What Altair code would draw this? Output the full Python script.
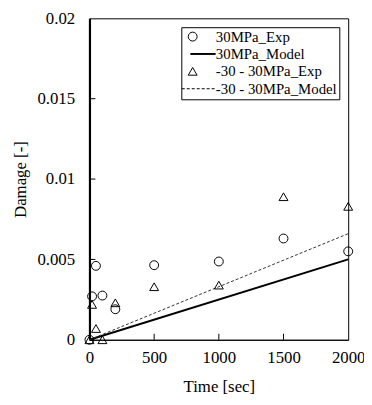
import altair as alt
import pandas as pd

# ---- data ----
time_exp = [0, 20, 50, 100, 200, 500, 1000, 1500, 2000]
damage_30_exp = [0.0, 0.0027, 0.0046, 0.00275, 0.0019, 0.00464, 0.00487, 0.0063, 0.0055]
damage_cyc_exp = [0.0, 0.0022, 0.0007, 0.0, 0.0023, 0.0033, 0.0034, 0.0089, 0.0083]

time_model = [0, 2000]
damage_30_model = [0.0, 0.005]
damage_cyc_model = [0.0, 0.0066]

series_names = ["30MPa_Exp", "30MPa_Model", "-30 - 30MPa_Exp", "-30 - 30MPa_Model"]
x_ticks = [0, 500, 1000, 1500, 2000]
y_ticks = [0, 0.005, 0.01, 0.015, 0.02]
x_inner_ticks = [500, 1000, 1500]
y_inner_ticks = [0.005, 0.01, 0.015]

# ---- tables ----
exp_df = pd.concat([
    pd.DataFrame({"time": time_exp, "damage": damage_30_exp, "series": series_names[0]}),
    pd.DataFrame({"time": time_exp, "damage": damage_cyc_exp, "series": series_names[2]}),
])
model30_df = pd.DataFrame({"time": time_model, "damage": damage_30_model})
modelcyc_df = pd.DataFrame({"time": time_model, "damage": damage_cyc_model})
xtick_df = pd.DataFrame({"time": x_inner_ticks})
ytick_df = pd.DataFrame({"damage": y_inner_ticks})

# legend symbol shapes (unit = sqrt(size)/2 px)
solid_path = "M-0.45,-0.11H5.1V0.11H-0.45Z"
dash_parts = []
pos = -2.45
while pos < 5.1:
    end = min(pos + 0.67, 5.1)
    dash_parts.append(f"M{pos:.2f},0H{end:.2f}")
    pos += 0.67 + 0.45
dashed_path = "".join(dash_parts)
shape_range = ["circle", solid_path, "triangle-up", dashed_path]

W, H = 262, 325.5
FONT = "Liberation Serif, Times New Roman, serif"

xscale = alt.Scale(domain=[0, 2000], nice=False, zero=False)
yscale = alt.Scale(domain=[0, 0.02], nice=False)

main_x = alt.X("time:Q", scale=xscale, axis=alt.Axis(
    values=x_ticks, format="d", title="Time [sec]", ticks=False, labelFlush=False,
    labelPadding=10, titlePadding=13, domainColor="black", domainWidth=1))
main_y = alt.Y("damage:Q", scale=yscale, axis=alt.Axis(
    values=y_ticks, format=".3~f", title="Damage [-]", ticks=False, labelFlush=False,
    labelPadding=15, titlePadding=8, domainColor="black", domainWidth=2.2))

solid = alt.Chart(model30_df).mark_line(color="black", strokeWidth=2).encode(
    x=main_x, y=main_y)

dashed = alt.Chart(modelcyc_df).mark_line(
    color="#333333", strokeWidth=1, strokeDash=[3, 2]).encode(
    x=alt.X("time:Q", scale=xscale), y=alt.Y("damage:Q", scale=yscale))

# inward tick marks along the bottom and left edges
xticks_in = alt.Chart(xtick_df).mark_tick(
    orient="vertical", size=6, thickness=1, color="black", opacity=1).encode(
    x=alt.X("time:Q", scale=xscale), y=alt.value(H - 3))
yticks_in = alt.Chart(ytick_df).mark_tick(
    orient="horizontal", size=6, thickness=1, color="black", opacity=1).encode(
    y=alt.Y("damage:Q", scale=yscale), x=alt.value(3))

points = alt.Chart(exp_df).mark_point(
    filled=False, color="black", strokeWidth=1, size=81, opacity=1).encode(
    x=alt.X("time:Q", scale=xscale),
    y=alt.Y("damage:Q", scale=yscale),
    shape=alt.Shape("series:N", scale=alt.Scale(domain=series_names, range=shape_range),
                    legend=alt.Legend(title=None)),
)

chart = alt.layer(solid, dashed, xticks_in, yticks_in, points).properties(
    width=W, height=H,
    autosize=alt.AutoSizeParams(type="none"),
    padding={"left": 82.5, "top": 8, "right": 16, "bottom": 55},
).configure(
    font=FONT
).configure_view(
    stroke="black", strokeWidth=1
).configure_axis(
    labelFont=FONT, labelFontSize=17, labelColor="black",
    titleFont=FONT, titleFontSize=17, titleFontWeight="normal", titleColor="black",
    grid=False,
).configure_legend(
    orient="none", legendX=93, legendY=9,
    padding=2, strokeColor="black", fillColor="white", cornerRadius=0,
    labelFont=FONT, labelFontSize=15, labelColor="black", labelOffset=16,
    symbolOffset=2, symbolSize=81, symbolStrokeColor="black", symbolStrokeWidth=1,
    rowPadding=1.6, labelLimit=300,
)

chart.save("out.html", embed_options={"renderer": "svg", "actions": False})
